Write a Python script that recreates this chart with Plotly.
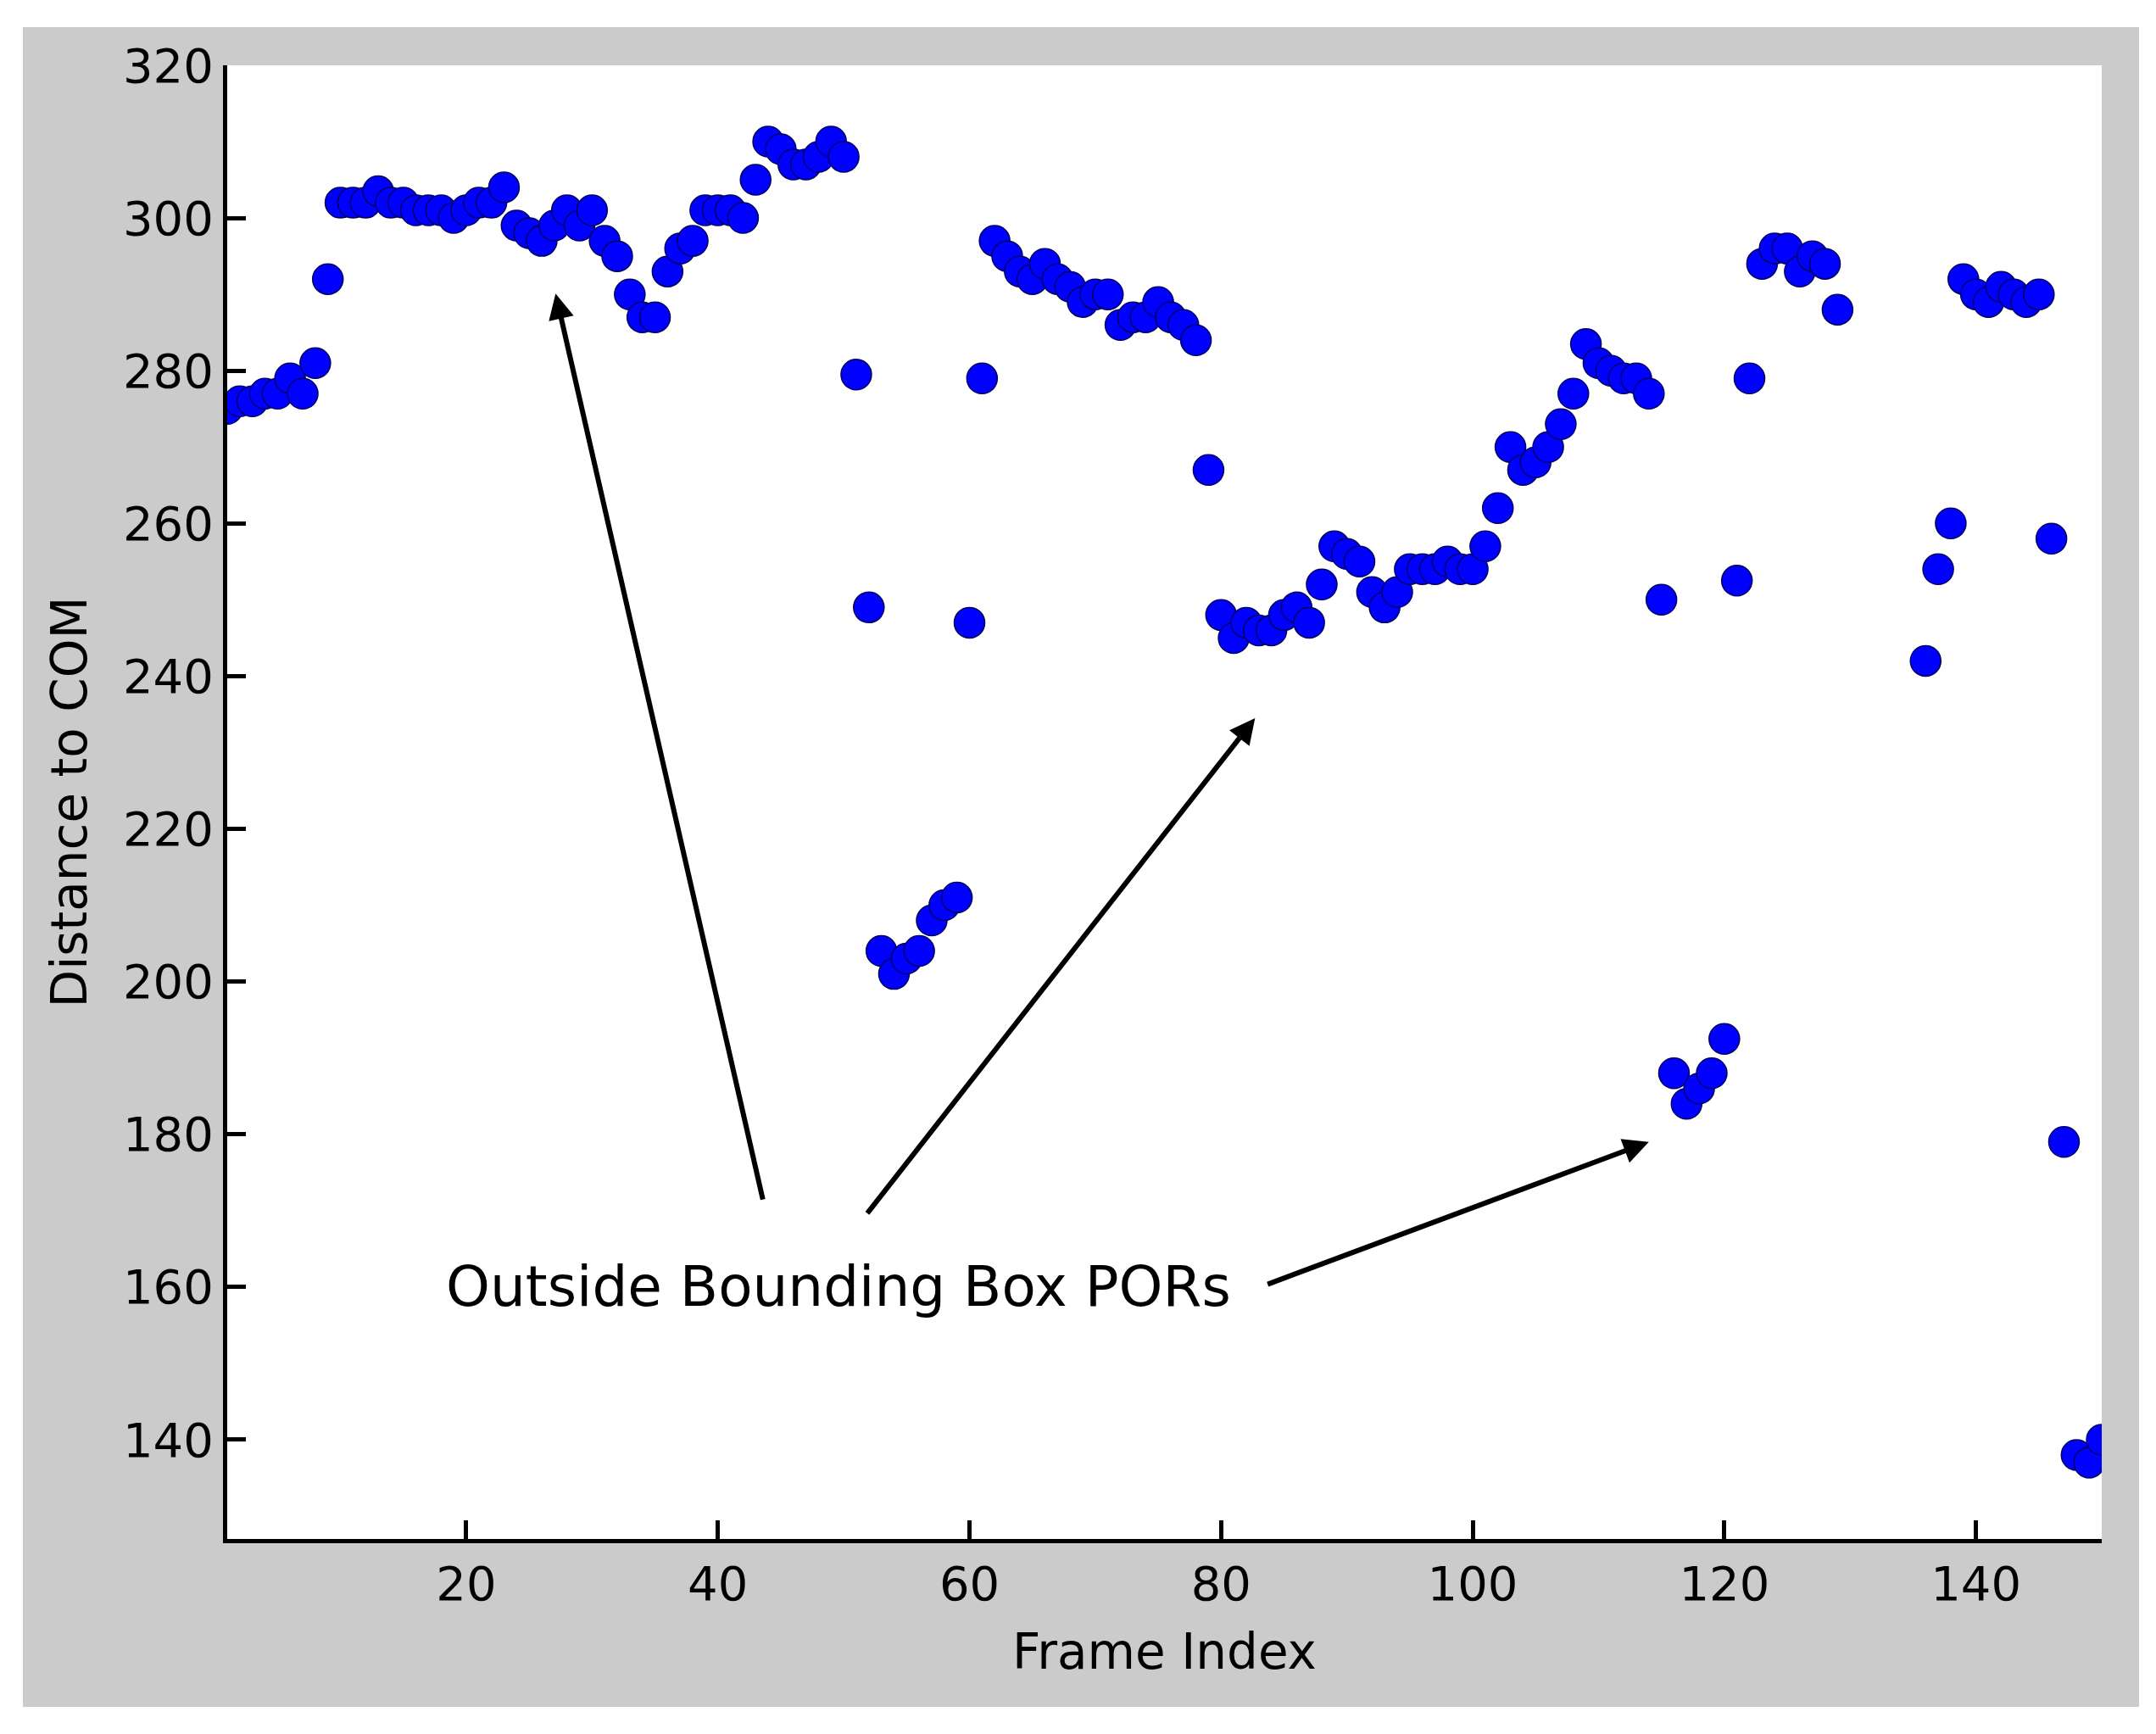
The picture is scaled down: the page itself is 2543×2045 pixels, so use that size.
import plotly.graph_objects as go

frames = list(range(1, 151))
dist = [275,276,276,277,277,279,277,281,292,302,
        302,302,303.5,302,302,301,301,301,300,301,
        302,302,304,299,298,297,299,301,299,301,
        297,295,290,287,287,293,296,297,301,301,
        301,300,305,310,309,307,307,308,310,308,
        279.5,249,204,201,203,204,208,210,211,247,
        279,297,295,293,292,294,292,291,289,290,
        290,286,287,287,289,287,286,284,267,248,
        245,247,246,246,248,249,247,252,257,256,
        255,251,249,251,254,254,254,255,254,254,
        257,262,270,267,268,270,273,277,283.5,281,
        280,279,279,277,250,188,184,186,188,192.5,
        252.5,279,294,296,296,293,295,294,288,None,
        None,None,None,None,None,242,254,260,292,290,
        289,291,290,289,290,258,179,138,137,140]

label_text = "Outside Bounding Box PORs"
label_pos = (49.6, 160)
arrows = [((43.6, 171.3), (27.1, 290.1)),
          ((51.8, 169.5), (82.7, 234.5)),
          ((83.6, 160.3), (114.0, 179.0))]

W, H = 2543, 2045
L, R, T, B = 260, 72, 69, 238
pw, ph = W - L - R, H - T - B

fig = go.Figure(go.Scatter(x=frames, y=dist, mode="markers",
    marker=dict(symbol="circle", size=36, color="#0000ff",
                line=dict(color="#000060", width=1.5))))

fig.add_shape(type="rect", xref="paper", yref="paper", layer="below",
              x0=(19 - L) / pw, x1=(2515 - L) / pw,
              y0=(H - B - 2005) / ph, y1=(H - B - 24) / ph,
              fillcolor="#cbcbcb", line=dict(width=0))
fig.add_shape(type="rect", xref="paper", yref="paper", layer="below",
              x0=0, x1=1, y0=0, y1=1, fillcolor="white", line=dict(width=0))

font = "DejaVu Sans"
fig.add_annotation(x=label_pos[0], y=label_pos[1], text=label_text, showarrow=False,
                   font=dict(family=font, size=66, color="black"))
for (tx, ty), (hx, hy) in arrows:
    fig.add_annotation(x=hx, y=hy, ax=tx, ay=ty, xref="x", yref="y", axref="x", ayref="y",
                       text="", showarrow=True, arrowhead=2, arrowsize=1.0,
                       arrowwidth=6, arrowcolor="black")

fig.update_layout(width=W, height=H, margin=dict(l=L, r=R, t=T, b=B),
                  paper_bgcolor="white", plot_bgcolor="white", showlegend=False,
                  font=dict(family=font, size=56, color="black"))
fig.update_xaxes(range=[1, 150], tickvals=[20, 40, 60, 80, 100, 120, 140],
                 ticks="inside", ticklen=22, tickwidth=5, tickcolor="black",
                 showline=True, linewidth=5, linecolor="black", mirror=False,
                 showgrid=False, zeroline=False,
                 title=dict(text="Frame Index", font=dict(size=58), standoff=30))
fig.update_yaxes(range=[127, 320], tickvals=list(range(140, 321, 20)),
                 ticks="inside", ticklen=22, tickwidth=5, tickcolor="black",
                 showline=True, linewidth=5, linecolor="black", mirror=False,
                 showgrid=False, zeroline=False,
                 title=dict(text="Distance to COM", font=dict(size=58), standoff=25))
fig.write_html("out.html")
